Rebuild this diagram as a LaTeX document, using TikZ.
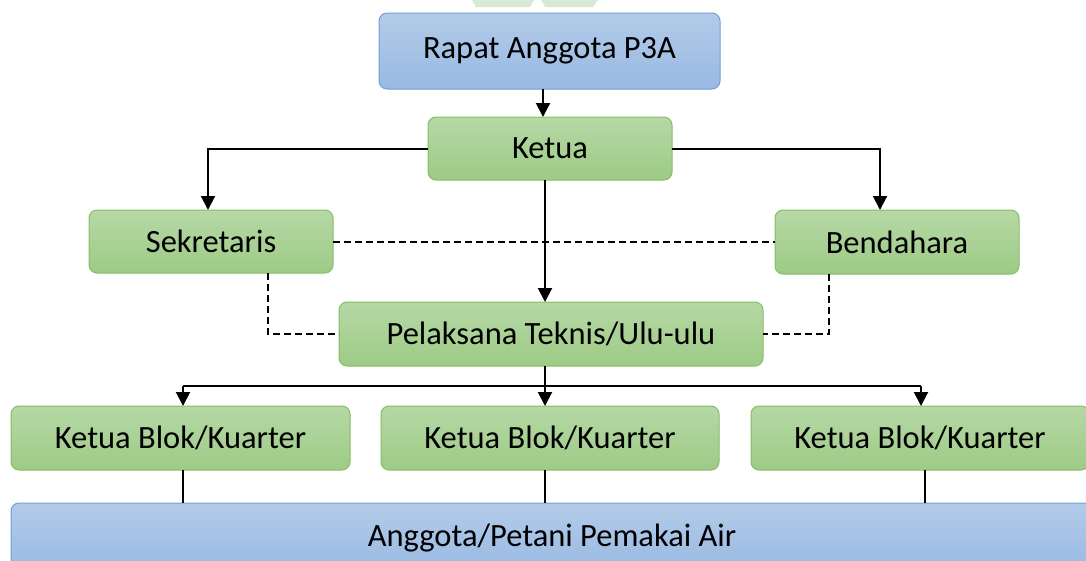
\documentclass[tikz,border=0pt]{standalone}
\usepackage{fontspec}
\setmainfont{Carlito}
\usetikzlibrary{arrows.meta}
\definecolor{gtop}{HTML}{B6D8A6}
\definecolor{gbot}{HTML}{9DCB85}
\definecolor{gborder}{HTML}{86BD68}
\definecolor{btop}{HTML}{B3CBE9}
\definecolor{bbot}{HTML}{98B9E2}
\definecolor{bborder}{HTML}{729FD7}
\definecolor{wmark}{HTML}{D8EAD6}
\tikzset{
  box/.style={rectangle, rounded corners=8pt, inner sep=0pt, outer sep=0pt, line width=1pt,
    font=\fontsize{32.5}{38}\selectfont, text=black},
  gbox/.style={box, draw=gborder, top color=gtop, bottom color=gbot},
  bluebox/.style={box, draw=bborder, top color=btop, bottom color=bbot},
  arr/.style={line width=2pt, -{Triangle[length=14pt,width=14pt]}},
  conn/.style={line width=2pt},
  dsh/.style={line width=2pt, dash pattern=on 7pt off 4pt}
}
\begin{document}
\begin{tikzpicture}[x=1pt,y=-1pt]
\useasboundingbox (0,0) rectangle (1086,560);
\clip (0,0) rectangle (1086,560);
% watermark
\fill[wmark] (472,0) -- (534,0) -- (530,7) -- (476,7) -- cycle;
\fill[wmark] (541,0) -- (598,0) -- (593,7) -- (545,7) -- cycle;
% nodes
\node[bluebox, minimum width=341pt, minimum height=76pt] (rapat) at (549.5,51) {Rapat Anggota P3A};
\node[gbox, minimum width=244pt, minimum height=63pt] (ketua) at (550,148.5) {Ketua};
\node[gbox, minimum width=244pt, minimum height=63pt] (sek) at (211,241.5) {Sekretaris};
\node[gbox, minimum width=244pt, minimum height=64pt] (bend) at (897,242) {Bendahara};
\node[gbox, minimum width=424pt, minimum height=64pt] (pel) at (551,334) {Pelaksana Teknis/Ulu-ulu};
\node[gbox, minimum width=339pt, minimum height=64pt] (kb1) at (180.5,438) {Ketua Blok/Kuarter};
\node[gbox, minimum width=338pt, minimum height=64pt] (kb2) at (550,438) {Ketua Blok/Kuarter};
\node[gbox, minimum width=338pt, minimum height=64pt] (kb3) at (920,438) {Ketua Blok/Kuarter};
\node[bluebox, minimum width=1082pt, minimum height=70pt] (ang) at (552,538) {Anggota/Petani Pemakai Air};
% connectors
\draw[arr] ([xshift=-6.5pt]rapat.south) -- ([xshift=-7pt]ketua.north);
\draw[arr] (ketua.west) -| ([xshift=-3pt]sek.north);
\draw[arr] (ketua.east) -| ([xshift=-17pt]bend.north);
\draw[arr] ([xshift=-5pt]ketua.south) -- ([xshift=-6pt]pel.north);
\draw[dsh] (sek.east) -- (sek.east -| bend.west);
\draw[dsh] ([xshift=57pt]sek.south) |- (pel.west);
\draw[dsh] ([xshift=-68pt]bend.south) |- (pel.east);
\coordinate (bus) at ([xshift=-6pt,yshift=-20pt]pel.south);
\draw[conn] ([xshift=-6pt]pel.south) -- (bus);
\draw[conn] ([xshift=2.5pt]kb1.north |- bus) -- ([xshift=1pt]kb3.north |- bus);
\draw[arr] ([xshift=2.5pt]kb1.north |- bus) -- ([xshift=2.5pt]kb1.north);
\draw[arr] (bus) -- (bus |- kb2.north);
\draw[arr] ([xshift=1pt]kb3.north |- bus) -- ([xshift=1pt]kb3.north);
\draw[conn] ([xshift=2.5pt]kb1.south) -- ([xshift=2.5pt]kb1.south |- ang.north);
\draw[conn] ([xshift=-5pt]kb2.south) -- ([xshift=-5pt]kb2.south |- ang.north);
\draw[conn] ([xshift=5pt]kb3.south) -- ([xshift=5pt]kb3.south |- ang.north);
\end{tikzpicture}
\end{document}
